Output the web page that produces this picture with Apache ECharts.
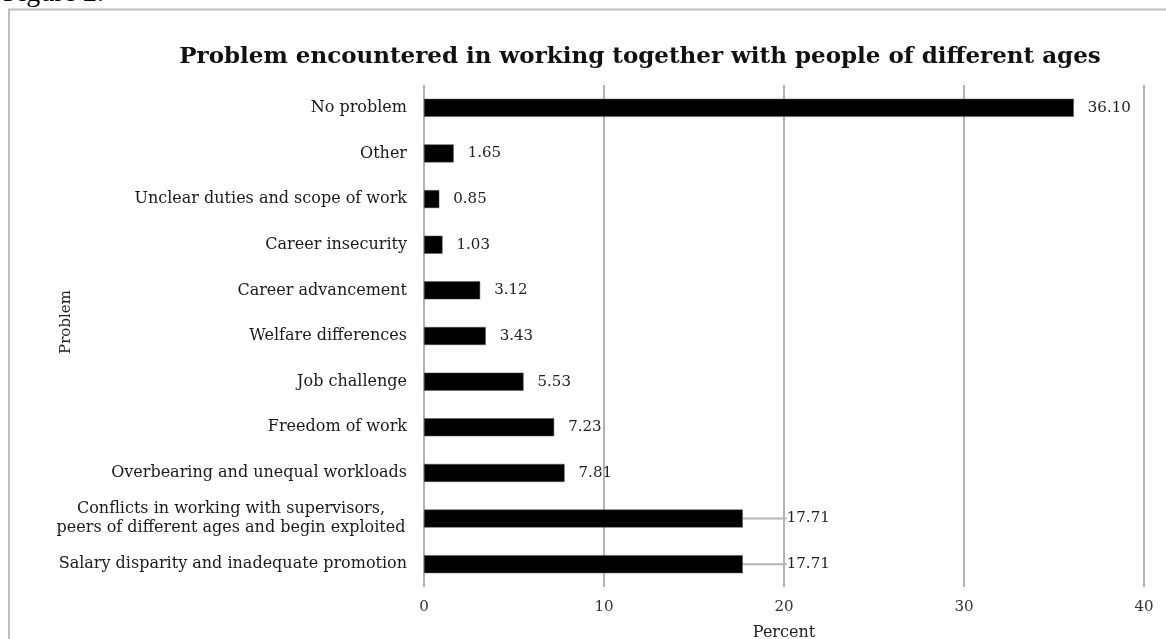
<!DOCTYPE html>
<html>
<head>
<meta charset="utf-8">
<script src="https://cdn.jsdelivr.net/npm/echarts@6/dist/echarts.min.js"></script>
<style>
  html, body { margin: 0; padding: 0; background: #fff; }
  #chart { width: 1166px; height: 639px; }
</style>
</head>
<body>
<div id="chart"></div>
<script>
var problems = [
    'Salary disparity and inadequate promotion',
    'Conflicts in working with supervisors,\npeers of different ages and begin exploited',
    'Overbearing and unequal workloads',
    'Freedom of work',
    'Job challenge',
    'Welfare differences',
    'Career advancement',
    'Career insecurity',
    'Unclear duties and scope of work',
    'Other',
    'No problem'
];
var percents = [17.71, 17.71, 7.81, 7.23, 5.53, 3.43, 3.12, 1.03, 0.85, 1.65, 36.10];
var percentTicks = [0, 10, 20, 30, 40];

var serif = 'DejaVu Serif';
var grey = '#b4b4b4';

var chart = echarts.init(document.getElementById('chart'));
chart.setOption({
    animation: false,
    title: {
        text: 'Problem encountered in working together with people of different ages',
        left: 635,
        top: 41,
        textAlign: 'center',
        textStyle: { fontFamily: serif, fontWeight: 'bold', fontSize: 23, color: '#111' }
    },
    graphic: [
        {
            type: 'rect',
            shape: { x: 9, y: 9.5, width: 1300, height: 800 },
            style: { fill: 'none', stroke: '#bfbfbf', lineWidth: 2 },
            silent: true
        },
        {
            type: 'text',
            left: 3,
            top: -20,
            style: { text: 'Figure 2.', font: '28px "Liberation Serif"', fill: '#000' }
        }
    ],
    grid: { left: 424, right: 22, top: 85, bottom: 52, containLabel: false, outerBoundsMode: 'none' },
    xAxis: {
        type: 'value',
        min: percentTicks[0],
        max: percentTicks[percentTicks.length - 1],
        interval: 10,
        name: 'Percent',
        nameLocation: 'middle',
        nameGap: 38,
        nameTextStyle: { fontFamily: serif, fontSize: 16, color: '#222' },
        axisLine: { show: false },
        axisTick: { show: false },
        axisLabel: { fontFamily: serif, fontSize: 15, color: '#333', margin: 13 },
        splitLine: { lineStyle: { color: grey, width: 2 } }
    },
    yAxis: {
        type: 'category',
        data: problems,
        name: 'Problem',
        nameLocation: 'middle',
        nameGap: 350,
        nameRotate: 90,
        nameMoveOverlap: false,
        nameTextStyle: { fontFamily: serif, fontSize: 15, color: '#222', padding: [0, 0, 0, 28] },
        axisLine: { show: false },
        axisTick: { show: false },
        axisLabel: {
            fontFamily: serif,
            fontSize: 16,
            color: '#1a1a1a',
            margin: 17,
            formatter: function (v) {
                if (v.indexOf('\n') < 0) return v;
                return v.split('\n').map(function (s) { return '{c|' + s + '}'; }).join('\n');
            },
            rich: {
                c: { fontFamily: serif, fontSize: 16, color: '#1a1a1a', width: 352, align: 'center', lineHeight: 19 }
            }
        }
    },
    series: [
        {
            type: 'bar',
            data: percents.map(function (v, i) {
                return i < 2 ? { value: v, labelLine: { show: true } } : v;
            }),
            barWidth: 18,
            itemStyle: { color: '#000', borderColor: '#555', borderWidth: 0.5 },
            label: {
                show: true,
                position: 'right',
                distance: 14,
                fontFamily: serif,
                fontSize: 15,
                color: '#222',
                formatter: function (p) { return p.value.toFixed(2); }
            },
            labelLine: { lineStyle: { color: grey, width: 2 } },
            labelLayout: function (params) {
                if (params.dataIndex < 2) return { dx: 30 };
                return {};
            }
        }
    ]
});
</script>
</body>
</html>
